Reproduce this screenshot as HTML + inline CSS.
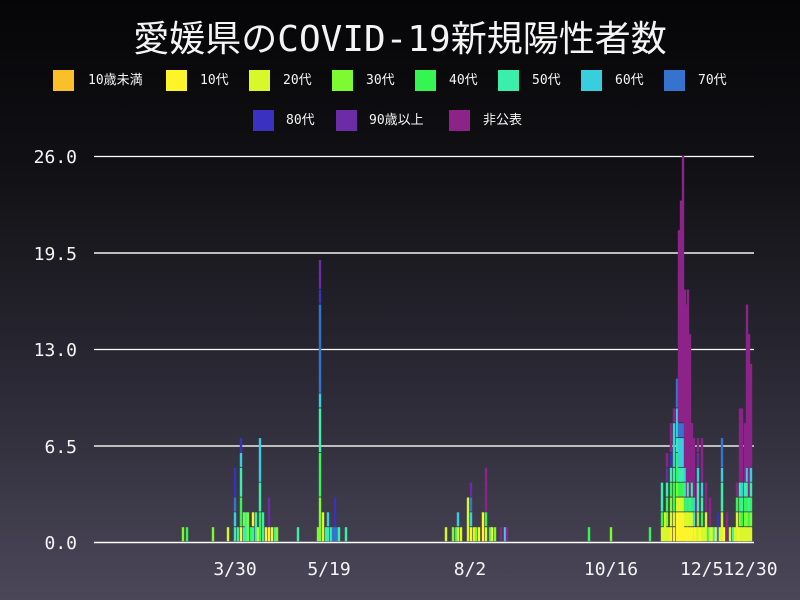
<!DOCTYPE html>
<html><head><meta charset="utf-8"><style>
html,body{margin:0;padding:0}
body{width:800px;height:600px;overflow:hidden;background:linear-gradient(#050507 0%,#121216 30%,#2c2a36 65%,#4b4759 100%);font-family:"DejaVu Sans Mono","Liberation Mono","Noto Sans CJK JP",monospace;color:#f4f4f4;position:relative}
.t{position:absolute;white-space:nowrap}
.sq{position:absolute;width:21px;height:21px}
.lg{position:absolute;font-size:13px;line-height:21px}
</style></head><body>
<div class="t" style="left:0;width:800px;text-align:center;top:15px;font-size:36px;line-height:50px">愛媛県のCOVID-19新規陽性者数</div>

<div class="sq" style="left:53px;top:70px;background:#fbbf2a"></div><div class="lg" style="left:88px;top:70px">10歳未満</div>
<div class="sq" style="left:166px;top:70px;background:#fdf52a"></div><div class="lg" style="left:200px;top:70px">10代</div>
<div class="sq" style="left:249px;top:70px;background:#d9f82a"></div><div class="lg" style="left:283px;top:70px">20代</div>
<div class="sq" style="left:332px;top:70px;background:#7dfa30"></div><div class="lg" style="left:366px;top:70px">30代</div>
<div class="sq" style="left:415px;top:70px;background:#35f552"></div><div class="lg" style="left:449px;top:70px">40代</div>
<div class="sq" style="left:498px;top:70px;background:#3aefab"></div><div class="lg" style="left:532px;top:70px">50代</div>
<div class="sq" style="left:581px;top:70px;background:#38cede"></div><div class="lg" style="left:615px;top:70px">60代</div>
<div class="sq" style="left:664px;top:70px;background:#3573cf"></div><div class="lg" style="left:698px;top:70px">70代</div>
<div class="sq" style="left:253px;top:110px;background:#3a31c0"></div><div class="lg" style="left:286px;top:110px">80代</div>
<div class="sq" style="left:336px;top:110px;background:#6c2ca6"></div><div class="lg" style="left:369px;top:110px">90歳以上</div>
<div class="sq" style="left:449px;top:110px;background:#8c2389"></div><div class="lg" style="left:483px;top:110px">非公表</div>

<div class="t" style="right:723px;top:146px;font-size:18px;line-height:24px">26.0</div>
<div class="t" style="right:723px;top:243px;font-size:18px;line-height:24px">19.5</div>
<div class="t" style="right:723px;top:339px;font-size:18px;line-height:24px">13.0</div>
<div class="t" style="right:723px;top:436px;font-size:18px;line-height:24px">6.5</div>
<div class="t" style="right:723px;top:532px;font-size:18px;line-height:24px">0.0</div>

<div class="t" style="left:195px;width:80px;text-align:center;top:558px;font-size:18px;line-height:24px">3/30</div>
<div class="t" style="left:289px;width:80px;text-align:center;top:558px;font-size:18px;line-height:24px">5/19</div>
<div class="t" style="left:430px;width:80px;text-align:center;top:558px;font-size:18px;line-height:24px">8/2</div>
<div class="t" style="left:571px;width:80px;text-align:center;top:558px;font-size:18px;line-height:24px">10/16</div>
<div class="t" style="left:680px;top:558px;font-size:18px;line-height:24px">12/512/30</div>

<svg id="c" width="800" height="600" style="position:absolute;left:0;top:0">
<line x1="94" x2="754" y1="156.5" y2="156.5" stroke="#fff" stroke-width="1.2"/>
<line x1="94" x2="754" y1="253" y2="253" stroke="#bdbdbd" stroke-width="2"/>
<line x1="94" x2="754" y1="349.5" y2="349.5" stroke="#fff" stroke-width="1.2"/>
<line x1="94" x2="754" y1="446" y2="446" stroke="#bdbdbd" stroke-width="2"/>
<g id="bars"></g>
<line x1="94" x2="754" y1="542.5" y2="542.5" stroke="#fff" stroke-width="1.5"/>
</svg>
<script>
var C={a:"#fbbf2a",b:"#fdf52a",c:"#d9f82a",d:"#7dfa30",e:"#35f552",f:"#3aefab",g:"#38cede",h:"#3573cf",i:"#3a31c0",j:"#6c2ca6",k:"#8c2389"};
var D="183:d 187:e 213:d 228:c 235:fghii 238:f 241:beeffgi 244:fd 246:ff 248:dd 251:e 253:fb 256:ff 258:c 260:eeffggg 263:ff 266:b 269:bjj 272:b 275:f 277:d 298:f "+
"318:d 320:dddeeefffghhhhhhijj 323:cc 326:f 328:fg 331:f 333:h 335:hii 337:h 339:f 346:f "+
"446:c 453:d 456:e 458:cg 461:c 468:ccc 471:bghj 474:c 476:d 479:b 483:bb 486:cekkk 490:e 492:b 495:d 501:k 505:g 507:k "+
"589:e 611:d 650:e "+
"662:ceff 663:c 665:cc 667:cdefjk 669:c 671:bcdefikk 674:bceefgggk 677:bbcdeefgghh 679:bbcefgghkkkkkkkkkkkkk 681:bbcefgghkkkkkkkkkkkkkkk 683:bbcefgghkkkkkkkkkkkkkkkkkk 685:bcefgkkkkkkkkkkkk 687:bcfkkkkkkkkkkkkk 688:bcefkkkkkkkkkkkkk 690:bcfkkkkkkkkkkk 692:bcefkkkk 694:cfgkkkk 695:b 697:ckkk 698:cdffgjk 700:b 702:cefgkkk 704:c 706:cckk 708:e 710:ckk 712:c 714:f 716:b 718:hi 720:c 722:ccffghh 724:b 727:kk 730:c 733:f 735:c 737:ccek 739:b 740:cdefkkkkk 742:cefgkkkkk 744:c 745:cdefkkkk 747:cdefgkkkkkkkkkkk 749:cefkkkkkkkkkkk 751:cdefgkkkkkkk";
var u=386/26,h="";
D.split(" ").forEach(function(s){if(!s)return;var p=s.split(":"),x=+p[0],cs=p[1];
var n=0;while(n<cs.length){var m=n;while(m<cs.length&&cs[m]==cs[n])m++;
var y0=542-m*u,y1=542-n*u;
h+='<rect x="'+(x-1.2)+'" y="'+y0.toFixed(1)+'" width="2.4" height="'+(y1-y0-0.8).toFixed(1)+'" fill="'+C[cs[n]]+'"/>';n=m;}});
document.getElementById("bars").innerHTML=h;
</script>
</body></html>
